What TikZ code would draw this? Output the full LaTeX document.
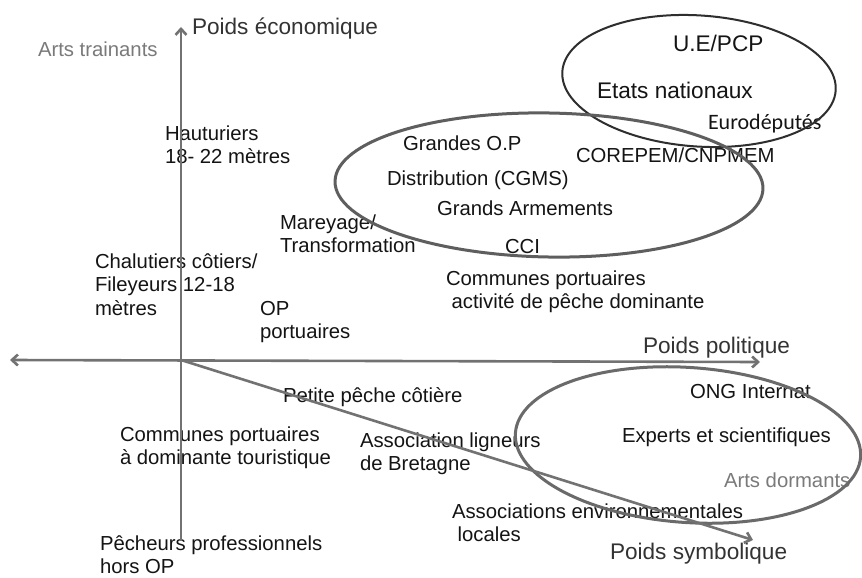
\documentclass[tikz,border=0pt]{standalone}
\usepackage{fontspec}
\setmainfont{Liberation Sans}
\newfontfamily\carl{Carlito}
\usetikzlibrary{arrows.meta}
\definecolor{axisgray}{HTML}{727272}
\definecolor{ellA}{HTML}{2E2E2E}
\definecolor{ellB}{HTML}{5E5E5E}
\definecolor{ellC}{HTML}{6A6A6A}
\definecolor{txtgray}{HTML}{7A7A7A}
\definecolor{axtxt}{HTML}{333333}
\newcommand\ml[1]{\begin{tabular}[t]{@{}l@{}}#1\end{tabular}}
\begin{document}
\begin{tikzpicture}[x=1pt,y=-1pt,
  lbl/.style={anchor=base west, inner sep=0pt, outer sep=0pt,
    font=\fontsize{20.3}{23.5}\selectfont, text=black!92},
  axislbl/.style={lbl, font=\fontsize{22.6}{26}\selectfont, text=axtxt},
  greylbl/.style={lbl, text=txtgray},
  axisline/.style={draw=axisgray, line width=2.6pt},
  barb/.style={-{Straight Barb[length=6pt,width=11pt]}},
  dbarb/.style={{Straight Barb[length=6pt,width=11pt]}-{Straight Barb[length=6pt,width=11pt]}}]
\fill[white] (0,0) rectangle (862,578);
\useasboundingbox (0,0) rectangle (862,578);

% labels
\node[greylbl] (arttr) at (38,57) {Arts trainants};
\node[axislbl] (pecon) at (192,35) {Poids économique};
\node[lbl] (haut) at (165,140) {\ml{Hauturiers\\18- 22 mètres}};
\node[lbl, font=\fontsize{22.6}{26}\selectfont] (ue) at (673,52) {U.E/PCP};
\node[lbl, font=\fontsize{22.6}{26}\selectfont] (etats) at (597,98) {Etats nationaux};
\node[lbl, font=\carl\fontsize{22}{26}\selectfont] (euro) at (708,129) {Eurodéputés};
\node[lbl] (gop) at (403,150) {Grandes O.P};
\node[lbl] (corepem) at (576,162) {COREPEM/CNPMEM};
\node[lbl] (distr) at (387,185) {Distribution (CGMS)};
\node[lbl] (arm) at (437,215) {Grands Armements};
\node[lbl] (mar) at (280,229) {\ml{Mareyage/\\Transformation}};
\node[lbl] (cci) at (505,253) {CCI};
\node[lbl] (chal) at (95,268) {\ml{Chalutiers côtiers/\\Fileyeurs 12-18\\mètres}};
\node[lbl] (compd) at (446,285) {\ml{Communes portuaires\\\hspace*{5.6pt}activité de pêche dominante}};
\node[lbl] (opp) at (260,315) {\ml{OP\\portuaires}};
\node[axislbl] (ppol) at (643,353) {Poids politique};
\node[lbl] (ppc) at (283,402) {Petite pêche côtière};
\node[lbl] (ong) at (690,398) {ONG Internat};
\node[lbl] (comt) at (120,441) {\ml{Communes portuaires\\à dominante touristique}};
\node[lbl] (alb) at (360,447) {\ml{Association ligneurs\\de Bretagne}};
\node[lbl] (exp) at (622,442) {Experts et scientifiques};
\node[greylbl] (artd) at (724,487) {Arts dormants};
\node[lbl] (aenv) at (452,518) {\ml{Associations environnementales\\\hspace*{5.6pt}locales}};
\node[axislbl] (psym) at (610,559) {Poids symbolique};
\node[lbl] (pech) at (100,550) {\ml{Pêcheurs professionnels\\hors OP}};

% ellipses
\draw[ellA, line width=2pt, rotate around={-4:(699,81)}]
  (699,81) ellipse [x radius=137pt, y radius=65.5pt];
\draw[ellB, line width=3pt, rotate around={-1:(549,185)}]
  (549,185) ellipse [x radius=214pt, y radius=72pt];
\draw[ellC, line width=3pt, rotate around={-4:(688,445)}]
  (688,445) ellipse [x radius=173pt, y radius=77.5pt];

% axes
\coordinate (O) at (181,360);
\coordinate (ytop) at (181,27);
\coordinate (ybot) at (181,541);
\coordinate (xleft) at (10,360);
\coordinate (xright) at (760,362);
\coordinate (dend) at (753,540);
\draw[axisline, barb] (ybot) -- (ytop);
\draw[axisline, dbarb] (xleft) -- (xright);
\draw[axisline, barb] (O) -- (dend);
\end{tikzpicture}
\end{document}
